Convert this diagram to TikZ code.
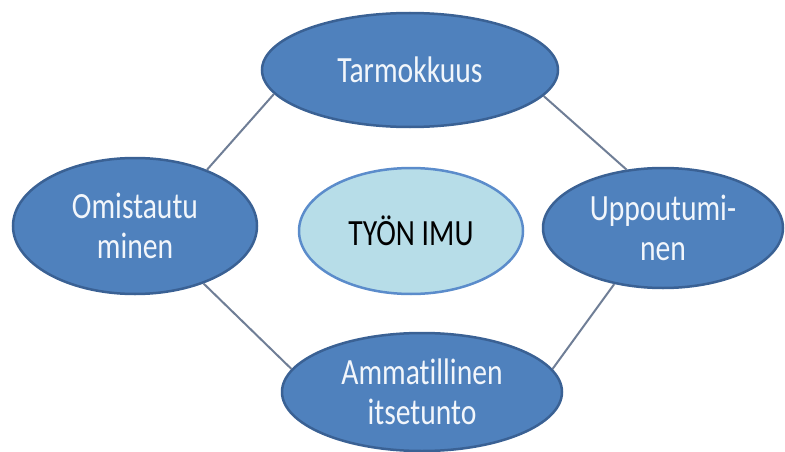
\documentclass[tikz,border=0pt]{standalone}
\usepackage{fontspec}
\setmainfont{Carlito}[FakeStretch=0.8, Ligatures=NoCommon]
\usetikzlibrary{positioning,shapes.geometric}
\definecolor{imublue}{HTML}{4F81BD}
\definecolor{imuedge}{HTML}{3A6194}
\definecolor{imulight}{HTML}{B7DDE8}
\definecolor{imuring}{HTML}{5B8CCB}
\definecolor{imuline}{HTML}{6F7E96}
\definecolor{imutext}{HTML}{F2F6FB}

\begin{document}
\begin{tikzpicture}[x=1pt,y=-1pt,
  osa/.style={ellipse, draw=imuedge, fill=imublue, line width=2.5pt, inner sep=0pt,
    text=imutext, align=center, font=\fontsize{37}{40}\selectfont},
  ydin/.style={ellipse, draw=imuring, fill=imulight, line width=2.5pt, inner sep=0pt,
    text=black, align=center, font=\fontsize{37}{40}\selectfont},
  yhteys/.style={draw=imuline, line width=2pt}]
\useasboundingbox (0,0) rectangle (785,452);

\node[ydin, minimum width=224pt, minimum height=126pt] (imu) at (411,231) {TYÖN IMU};

\node[osa, minimum width=296pt, minimum height=114pt] (tarmo) at (410,70) {Tarmokkuus};
\node[osa, minimum width=244pt, minimum height=136pt] (omis) at (135,226) {Omistautu\\minen};
\node[osa, minimum width=240pt, minimum height=120pt] (uppo) at (663,228) {Uppoutumi-\\nen};
\node[osa, minimum width=280pt, minimum height=118pt] (amma) at (422,392) {Ammatillinen\\itsetunto};

\draw[yhteys] (tarmo.190) -- (omis.38);
\draw[yhteys] (tarmo.349) -- (uppo.122);
\draw[yhteys] (omis.320) -- (amma.170);
\draw[yhteys] (uppo.229) -- (amma.10);

\end{tikzpicture}
\end{document}
